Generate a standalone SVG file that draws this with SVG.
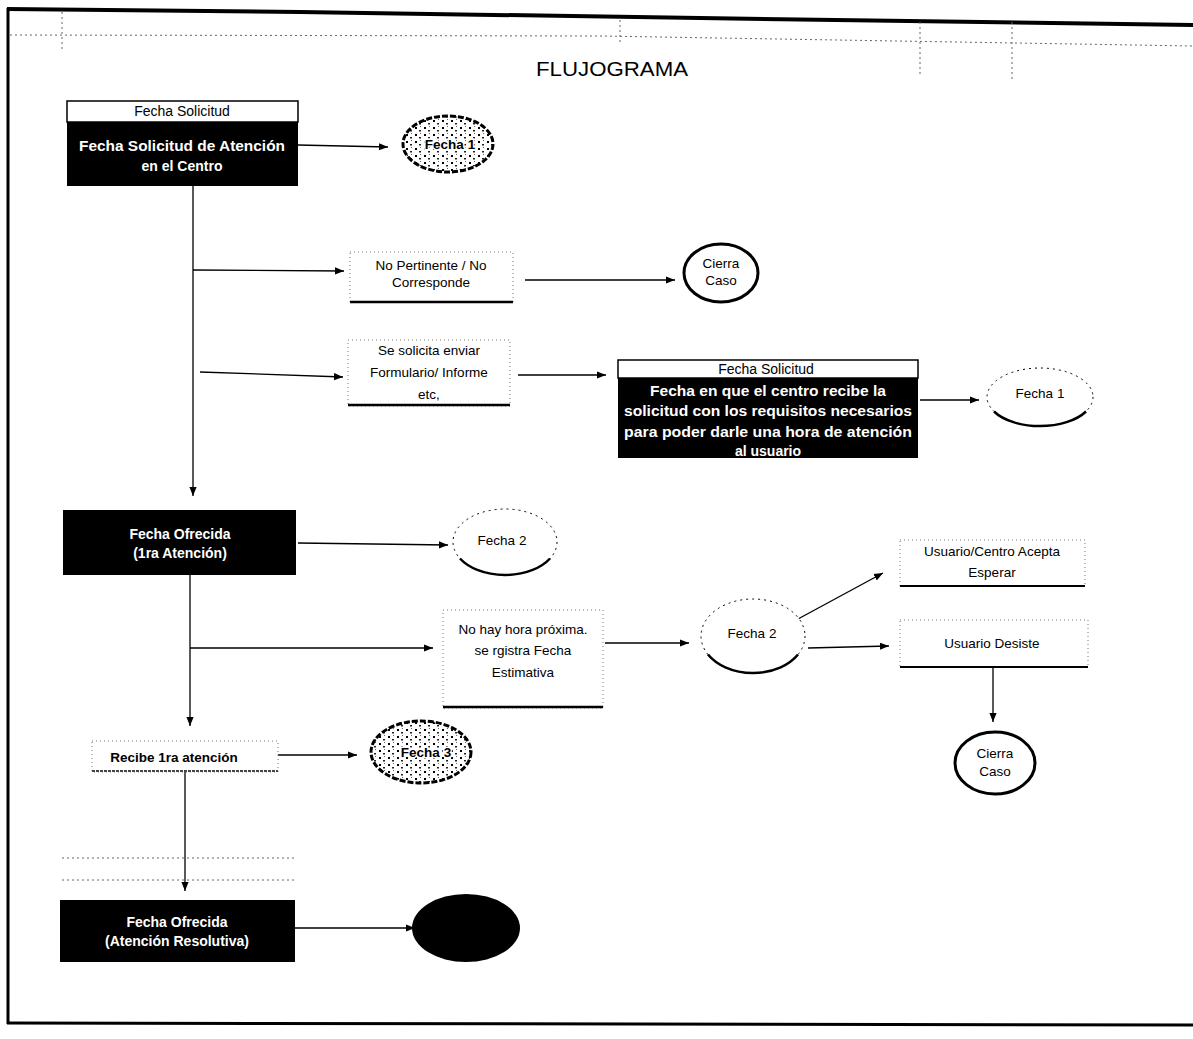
<svg xmlns="http://www.w3.org/2000/svg" width="1193" height="1039" viewBox="0 0 1193 1039">
<defs>
<style>
.bg{fill:#fff}
.frame{stroke:#000;fill:none}
.grid{stroke:#666;stroke-width:1;stroke-dasharray:2 3;fill:none}
.blk{fill:#000}
.hdr{fill:#fff;stroke:#000;stroke-width:1.5}
.wt{fill:#fff;font-family:"Liberation Sans",Arial,sans-serif;font-weight:bold;font-size:14px;text-anchor:middle}
.ht{fill:#000;font-family:"Liberation Sans",Arial,sans-serif;font-size:14px;text-anchor:middle}
.bt{fill:#000;font-family:"Liberation Sans",Arial,sans-serif;font-size:13.5px;text-anchor:middle}
.dbox{fill:#fff;stroke:#777;stroke-width:1;stroke-dasharray:1 3}
.thick{stroke:#000;stroke-width:2.5}
.ell{fill:#fff;stroke:#000;stroke-width:1;stroke-dasharray:2 4}
.arc{stroke:#000;stroke-width:2.5;fill:none}
.ellT{fill:#fff;stroke:#000;stroke-width:3}
.tex{fill:url(#speck);stroke:#000;stroke-width:3;stroke-dasharray:6 2}
.conn line,.conn path{stroke:#000;stroke-width:1.3;fill:none}
</style>
<marker id="ah" viewBox="0 0 10 10" refX="10" refY="5" markerWidth="9" markerHeight="9" markerUnits="userSpaceOnUse" orient="auto">
<path d="M0,1 L10,5 L0,9 Z" fill="#000"/>
</marker>
<pattern id="speck" width="9" height="7" patternUnits="userSpaceOnUse">
<rect width="9" height="7" fill="#fff"/>
<rect x="1" y="1" width="2" height="2" fill="#000"/>
<rect x="5" y="4" width="2" height="1.5" fill="#222"/>
<rect x="6" y="0" width="1" height="1" fill="#666"/>
</pattern>
</defs>
<rect class="bg" width="1193" height="1039"/>

<g id="frame">
<path class="frame" stroke-width="4" d="M7,9 L300,12 L700,18 L1193,25"/>
<line class="frame" stroke-width="3" x1="8" y1="8" x2="8" y2="1024"/>
<line class="frame" stroke-width="3" x1="7" y1="1023" x2="1193" y2="1025"/>
<path class="grid" d="M10,35 L600,36 L1193,46"/>
<line class="grid" x1="62" y1="12" x2="62" y2="52"/>
<line class="grid" x1="620" y1="20" x2="620" y2="45"/>
<line class="grid" x1="920" y1="22" x2="920" y2="75"/>
<line class="grid" x1="1012" y1="22" x2="1012" y2="80"/>
<line class="grid" x1="62" y1="858" x2="296" y2="858"/>
<line class="grid" x1="62" y1="880" x2="296" y2="880"/>
<text x="612" y="76" font-family="Liberation Sans,Arial,sans-serif" font-size="20" text-anchor="middle" textLength="152" lengthAdjust="spacingAndGlyphs">FLUJOGRAMA</text>
</g>

<g class="conn" id="connectors">
<line x1="298" y1="145" x2="388" y2="147" marker-end="url(#ah)"/>
<line x1="193" y1="186" x2="193" y2="496" marker-end="url(#ah)"/>
<line x1="193" y1="270" x2="344" y2="271" marker-end="url(#ah)"/>
<line x1="525" y1="280" x2="675" y2="280" marker-end="url(#ah)"/>
<line x1="200" y1="372" x2="343" y2="377" marker-end="url(#ah)"/>
<line x1="518" y1="375" x2="606" y2="375" marker-end="url(#ah)"/>
<line x1="920" y1="400" x2="979" y2="400" marker-end="url(#ah)"/>
<line x1="298" y1="543" x2="448" y2="545" marker-end="url(#ah)"/>
<line x1="190" y1="575" x2="190" y2="726" marker-end="url(#ah)"/>
<line x1="190" y1="648" x2="433" y2="648" marker-end="url(#ah)"/>
<line x1="605" y1="643" x2="689" y2="643" marker-end="url(#ah)"/>
<line x1="798" y1="619" x2="883" y2="573" marker-end="url(#ah)"/>
<line x1="808" y1="648" x2="889" y2="646" marker-end="url(#ah)"/>
<line x1="993" y1="667" x2="993" y2="722" marker-end="url(#ah)"/>
<line x1="278" y1="755" x2="357" y2="755" marker-end="url(#ah)"/>
<line x1="185" y1="772" x2="185" y2="891" marker-end="url(#ah)"/>
<line x1="295" y1="928" x2="415" y2="928" marker-end="url(#ah)"/>
</g>

<g id="n-fecha-solicitud-centro">
<rect class="hdr" x="67" y="101" width="231" height="21"/>
<text class="ht" x="182" y="116">Fecha Solicitud</text>
<rect class="blk" x="67" y="122" width="231" height="64"/>
<text class="wt" x="182" y="151" textLength="206" lengthAdjust="spacingAndGlyphs">Fecha Solicitud de Atención</text>
<text class="wt" x="182" y="171">en el Centro</text>
</g>

<g id="n-fecha1-a">
<ellipse class="tex" cx="448" cy="144" rx="45" ry="28"/>
<text class="bt" x="450" y="149" font-weight="bold" stroke="#fff" stroke-width="3" paint-order="stroke">Fecha 1</text>
</g>

<g id="n-no-pertinente">
<rect class="dbox" x="350" y="252" width="163" height="50"/>
<line class="thick" x1="350" y1="302" x2="513" y2="302"/>
<text class="bt" x="431" y="270">No Pertinente / No</text>
<text class="bt" x="431" y="287">Corresponde</text>
</g>

<g id="n-cierra-caso-1">
<ellipse class="ellT" cx="721" cy="273" rx="37" ry="29"/>
<text class="bt" x="721" y="268" font-size="12">Cierra</text>
<text class="bt" x="721" y="285" font-size="12">Caso</text>
</g>

<g id="n-se-solicita">
<rect class="dbox" x="348" y="340" width="162" height="66"/>
<line class="thick" x1="348" y1="405" x2="510" y2="405"/>
<text class="bt" x="429" y="355">Se solicita enviar</text>
<text class="bt" x="429" y="377">Formulario/ Informe</text>
<text class="bt" x="429" y="399">etc,</text>
</g>

<g id="n-fecha-solicitud-requisitos">
<rect class="hdr" x="618" y="360" width="300" height="18"/>
<text class="ht" x="766" y="374">Fecha Solicitud</text>
<rect class="blk" x="618" y="378" width="300" height="80"/>
<text class="wt" x="768" y="396" textLength="236" lengthAdjust="spacingAndGlyphs">Fecha en que el centro recibe la</text>
<text class="wt" x="768" y="416" textLength="288" lengthAdjust="spacingAndGlyphs">solicitud con los requisitos necesarios</text>
<text class="wt" x="768" y="437" textLength="288" lengthAdjust="spacingAndGlyphs">para poder darle una hora de atención</text>
<text class="wt" x="768" y="456">al usuario</text>
</g>

<g id="n-fecha1-b">
<ellipse class="ell" cx="1040" cy="397" rx="53" ry="29"/>
<path class="arc" stroke-width="1.5" d="M994,411.5 A53,29 0 0,0 1086,411.5"/>
<text class="bt" x="1040" y="398">Fecha 1</text>
</g>

<g id="n-fecha-ofrecida-1ra">
<rect class="blk" x="63" y="510" width="233" height="65"/>
<text class="wt" x="180" y="539">Fecha Ofrecida</text>
<text class="wt" x="180" y="558">(1ra Atención)</text>
</g>

<g id="n-fecha2-a">
<ellipse class="ell" cx="505" cy="542" rx="52" ry="33"/>
<path class="arc" d="M460,558.5 A52,33 0 0,0 550,558.5"/>
<text class="bt" x="502" y="545">Fecha 2</text>
</g>

<g id="n-no-hay-hora">
<rect class="dbox" x="443" y="610" width="160" height="98"/>
<line class="thick" x1="443" y1="707" x2="603" y2="707"/>
<text class="bt" x="523" y="634">No hay hora próxima.</text>
<text class="bt" x="523" y="655">se rgistra Fecha</text>
<text class="bt" x="523" y="677">Estimativa</text>
</g>

<g id="n-fecha2-b">
<ellipse class="ell" cx="753" cy="636" rx="52" ry="37"/>
<path class="arc" d="M708,654.5 A52,37 0 0,0 798,654.5"/>
<text class="bt" x="752" y="638">Fecha 2</text>
</g>

<g id="n-usuario-acepta">
<rect class="dbox" x="900" y="540" width="185" height="46"/>
<line x1="900" y1="586" x2="1085" y2="586" stroke="#000" stroke-width="2"/>
<text class="bt" x="992" y="556">Usuario/Centro Acepta</text>
<text class="bt" x="992" y="577">Esperar</text>
</g>

<g id="n-usuario-desiste">
<rect class="dbox" x="900" y="620" width="188" height="47"/>
<line x1="900" y1="667" x2="1088" y2="667" stroke="#000" stroke-width="2"/>
<text class="bt" x="992" y="648">Usuario Desiste</text>
</g>

<g id="n-cierra-caso-2">
<ellipse class="ellT" cx="995" cy="763" rx="40" ry="31"/>
<text class="bt" x="995" y="758" font-size="12">Cierra</text>
<text class="bt" x="995" y="776" font-size="12">Caso</text>
</g>

<g id="n-recibe-1ra">
<rect class="dbox" x="92" y="741" width="186" height="31"/>
<line x1="92" y1="771" x2="278" y2="771" stroke="#444" stroke-width="2" stroke-dasharray="3 1"/>
<text class="bt" x="174" y="762" font-weight="bold">Recibe 1ra atención</text>
</g>

<g id="n-fecha3">
<ellipse class="tex" cx="421" cy="752" rx="50" ry="31"/>
<text class="bt" x="426" y="757" font-weight="bold" stroke="#fff" stroke-width="3" paint-order="stroke">Fecha 3</text>
</g>

<g id="n-fecha-ofrecida-resolutiva">
<rect class="blk" x="60" y="900" width="235" height="62"/>
<text class="wt" x="177" y="927">Fecha Ofrecida</text>
<text class="wt" x="177" y="946">(Atención Resolutiva)</text>
</g>

<g id="n-fecha-black">
<ellipse cx="466" cy="928" rx="54" ry="34" fill="#000"/>
</g>
</svg>
